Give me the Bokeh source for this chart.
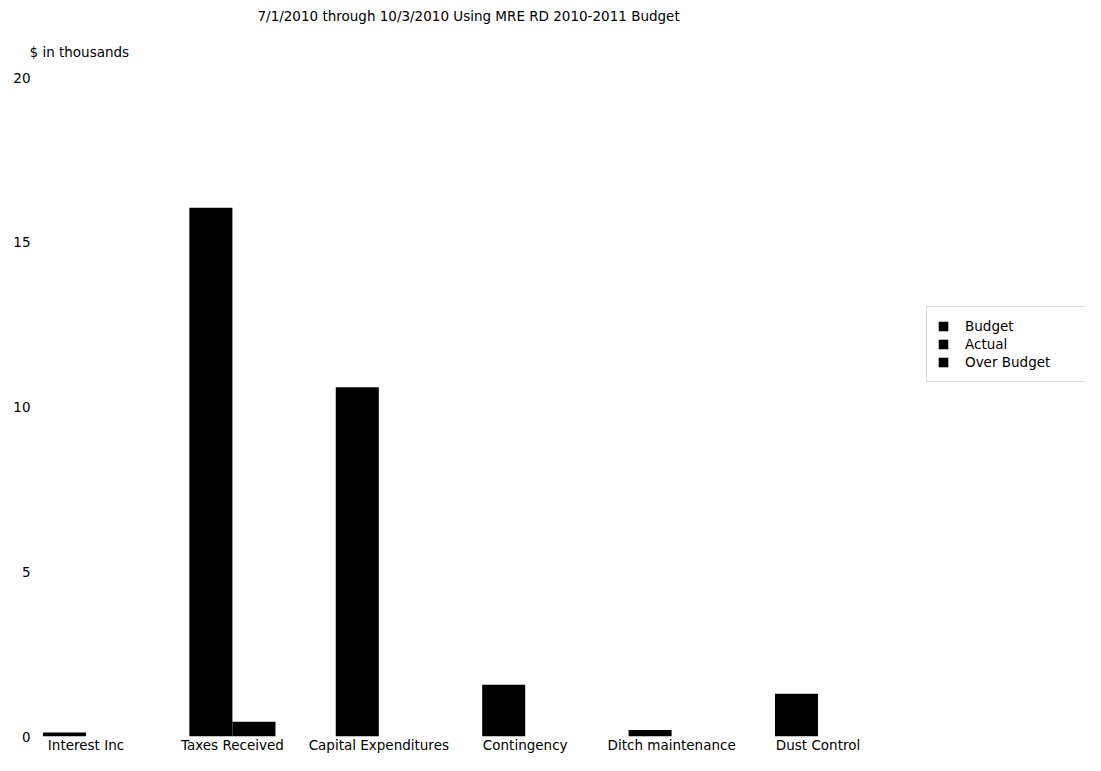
from bokeh.plotting import figure
from bokeh.models import (Range1d, FixedTicker, Legend, LegendItem, Title,
                          ColumnDataSource)
from bokeh.transform import dodge
from bokeh.embed import file_html
from bokeh.resources import INLINE

# ---- data ----
categories = ["Interest Inc", "Taxes Received", "Capital Expenditures",
              "Contingency", "Ditch maintenance", "Dust Control"]
budget = [0.12, 16.05, 10.6, 1.57, 0.2, 1.3]
actual = [0.0, 0.45, 0.0, 0.0, 0.0, 0.0]
over_budget = [0.0, 0.0, 0.0, 0.0, 0.0, 0.0]
series_names = ["Budget", "Actual", "Over Budget"]
y_ticks = [0, 5, 10, 15, 20]
title_text = "7/1/2010 through 10/3/2010 Using MRE RD 2010-2011 Budget"
y_unit_text = "$ in thousands"

FONT = "DejaVu Sans"
FS = "13.5px"

src = ColumnDataSource(dict(
    x=list(range(len(categories))),
    budget=budget, actual=actual, over=over_budget))

p = figure(width=1085, height=755,
           x_range=Range1d(-0.3176, 6.827), y_range=Range1d(0, 20),
           output_backend="svg", toolbar_location=None,
           min_border_left=39, min_border_right=0,
           min_border_top=77, min_border_bottom=0)

p.background_fill_color = "white"
p.border_fill_color = "white"
p.outline_line_color = None
p.xgrid.visible = False
p.ygrid.visible = False

# main title (outermost)
p.title.text = title_text
p.title.align = "left"
p.title.offset = 218
p.title.text_font = FONT
p.title.text_font_size = FS
p.title.text_font_style = "normal"
p.title.text_color = "black"
p.title.standoff = 0

unit_title = Title(text=y_unit_text, align="left", offset=-10,
                   text_font=FONT, text_font_size=FS,
                   text_font_style="normal", text_color="black", standoff=36)
p.add_layout(unit_title, "above")

W = 0.294
r_b = p.vbar(x=dodge("x", -W / 2, range=p.x_range), top="budget", width=W,
             source=src, fill_color="black", line_color=None)
r_a = p.vbar(x=dodge("x", W / 2, range=p.x_range), top="actual", width=W,
             source=src, fill_color="black", line_color=None)
r_o = p.vbar(x=dodge("x", 3 * W / 2, range=p.x_range), top="over", width=W,
             source=src, fill_color="black", line_color=None)

xa = p.xaxis[0]
xa.ticker = FixedTicker(ticks=list(range(len(categories))))
xa.major_label_overrides = {i: c for i, c in enumerate(categories)}
xa.axis_line_color = None
xa.major_tick_line_color = None
xa.minor_tick_line_color = None
xa.major_tick_out = 0
xa.major_tick_in = 0
xa.minor_tick_out = 0
xa.major_label_standoff = 0
xa.major_label_text_font = FONT
xa.major_label_text_font_size = FS
xa.major_label_text_color = "black"

ya = p.yaxis[0]
ya.ticker = FixedTicker(ticks=y_ticks)
ya.axis_line_color = None
ya.major_tick_line_color = None
ya.minor_tick_line_color = None
ya.major_tick_out = 0
ya.major_tick_in = 0
ya.minor_tick_out = 0
ya.major_label_standoff = 9
ya.major_label_text_font = FONT
ya.major_label_text_font_size = FS
ya.major_label_text_color = "black"

legend = Legend(items=[LegendItem(label=series_names[0], renderers=[r_b]),
                       LegendItem(label=series_names[1], renderers=[r_a]),
                       LegendItem(label=series_names[2], renderers=[r_o])],
                location=(887, 354))
legend.padding = 10
legend.spacing = 0
legend.margin = 0
legend.label_height = 18
legend.glyph_height = 12
legend.glyph_width = 12
legend.label_standoff = 16
legend.label_width = 130
legend.label_text_font = FONT
legend.label_text_font_size = FS
legend.label_text_color = "black"
legend.border_line_color = "#b4b4b4"
legend.border_line_width = 1
legend.background_fill_color = "white"
p.add_layout(legend)

open("out.html", "w").write(file_html(p, INLINE))
